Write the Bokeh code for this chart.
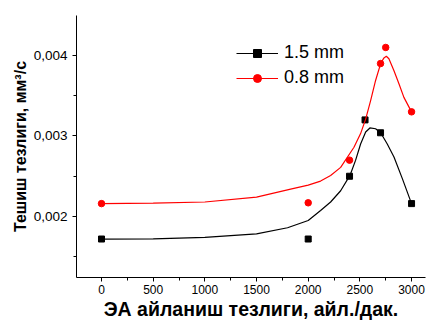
from bokeh.plotting import figure
from bokeh.models import (Range1d, FixedTicker, SingleIntervalTicker, CustomJSTickFormatter,
                          Legend, LegendItem)
from bokeh.embed import file_html
from bokeh.resources import INLINE

# measured points
x_15 = [0, 2000, 2400, 2550, 2700, 3000]
y_15 = [0.00172, 0.00172, 0.00250, 0.00320, 0.00304, 0.00216]
x_08 = [0, 2000, 2400, 2700, 2750, 3000]
y_08 = [0.00216, 0.00217, 0.00270, 0.00390, 0.00410, 0.00330]

# fitted curves
fit_x_15 = [0, 500, 1000, 1500, 1800, 2000, 2120, 2217, 2314, 2404, 2459, 2507, 2556, 2597,
            2652, 2701, 2765, 2830, 2911, 3000]
fit_y_15 = [0.00172, 0.001722, 0.00174, 0.001785, 0.00186, 0.00195, 0.002075, 0.00218, 0.00232,
            0.00251, 0.00270, 0.00290, 0.00305, 0.00310, 0.00309, 0.00304, 0.00290, 0.00274,
            0.00247, 0.00216]
fit_x_08 = [0, 500, 1000, 1500, 1830, 2000, 2120, 2217, 2314, 2443, 2507, 2556, 2604, 2652, 2701,
            2733, 2756, 2781, 2830, 2878, 2926, 3000]
fit_y_08 = [0.00216, 0.002165, 0.00218, 0.00224, 0.00234, 0.00239, 0.00244, 0.00251, 0.00261,
            0.00286, 0.00303, 0.00321, 0.00344, 0.00369, 0.00390, 0.00397, 0.00399, 0.00396,
            0.00381, 0.00365, 0.00348, 0.00330]

y_ticks = [0.002, 0.003, 0.004]
y_minor = [0.0015, 0.0025, 0.0035, 0.0045]

FONT = "Liberation Sans"

p = figure(width=427, height=323, output_backend="svg", toolbar_location=None,
           x_range=Range1d(-242, 3135), y_range=Range1d(0.001242, 0.004497),
           min_border_left=76, min_border_right=2, min_border_top=15, min_border_bottom=46)
p.outline_line_color = None
p.xgrid.visible = False
p.ygrid.visible = False

l1 = p.line(fit_x_15, fit_y_15, line_color="black", line_width=1.2)
s1 = p.scatter(x_15, y_15, marker="square", size=6, color="black")
l2 = p.line(fit_x_08, fit_y_08, line_color="red", line_width=1.2)
s2 = p.scatter(x_08, y_08, marker="circle", size=6.5, color="red")

p.xaxis.ticker = SingleIntervalTicker(interval=500, num_minor_ticks=2)
p.yaxis.ticker = FixedTicker(ticks=y_ticks, minor_ticks=y_minor)
p.yaxis.formatter = CustomJSTickFormatter(code="return tick.toFixed(3).replace('.', ',');")

for ax in (p.xaxis[0], p.yaxis[0]):
    ax.axis_line_color = "black"
    ax.major_tick_line_color = "black"
    ax.minor_tick_line_color = "black"
    ax.major_tick_out = 4
    ax.major_tick_in = 0
    ax.minor_tick_out = 3
    ax.minor_tick_in = 0
    ax.major_label_text_font = FONT
    ax.major_label_text_color = "black"
    ax.axis_label_text_font = FONT
    ax.axis_label_text_font_style = "bold"
    ax.axis_label_text_color = "black"

p.xaxis.major_label_text_font_size = "12px"
p.yaxis.major_label_text_font_size = "13.5px"
p.xaxis.axis_label = "ЭА айланиш тезлиги, айл./дак."
p.yaxis.axis_label = "Тешиш тезлиги, мм³/с"
p.xaxis.axis_label_text_font_size = "19.5px"
p.yaxis.axis_label_text_font_size = "16px"
p.xaxis.axis_label_standoff = 1
p.yaxis.axis_label_standoff = 2
p.xaxis.major_label_standoff = 3
p.yaxis.major_label_standoff = 5

legend = Legend(items=[LegendItem(label="1.5 mm", renderers=[l1, s1]),
                       LegendItem(label="0.8 mm", renderers=[l2, s2])],
                location=(160, 189))
legend.background_fill_alpha = 0
legend.border_line_color = None
legend.padding = 0
legend.margin = 0
legend.spacing = 4
legend.glyph_width = 42
legend.glyph_height = 20
legend.label_height = 20
legend.label_standoff = 6
legend.label_text_font = FONT
legend.label_text_font_size = "18px"
legend.label_text_color = "black"
p.add_layout(legend, "center")

open("out.html", "w").write(file_html(p, INLINE))
